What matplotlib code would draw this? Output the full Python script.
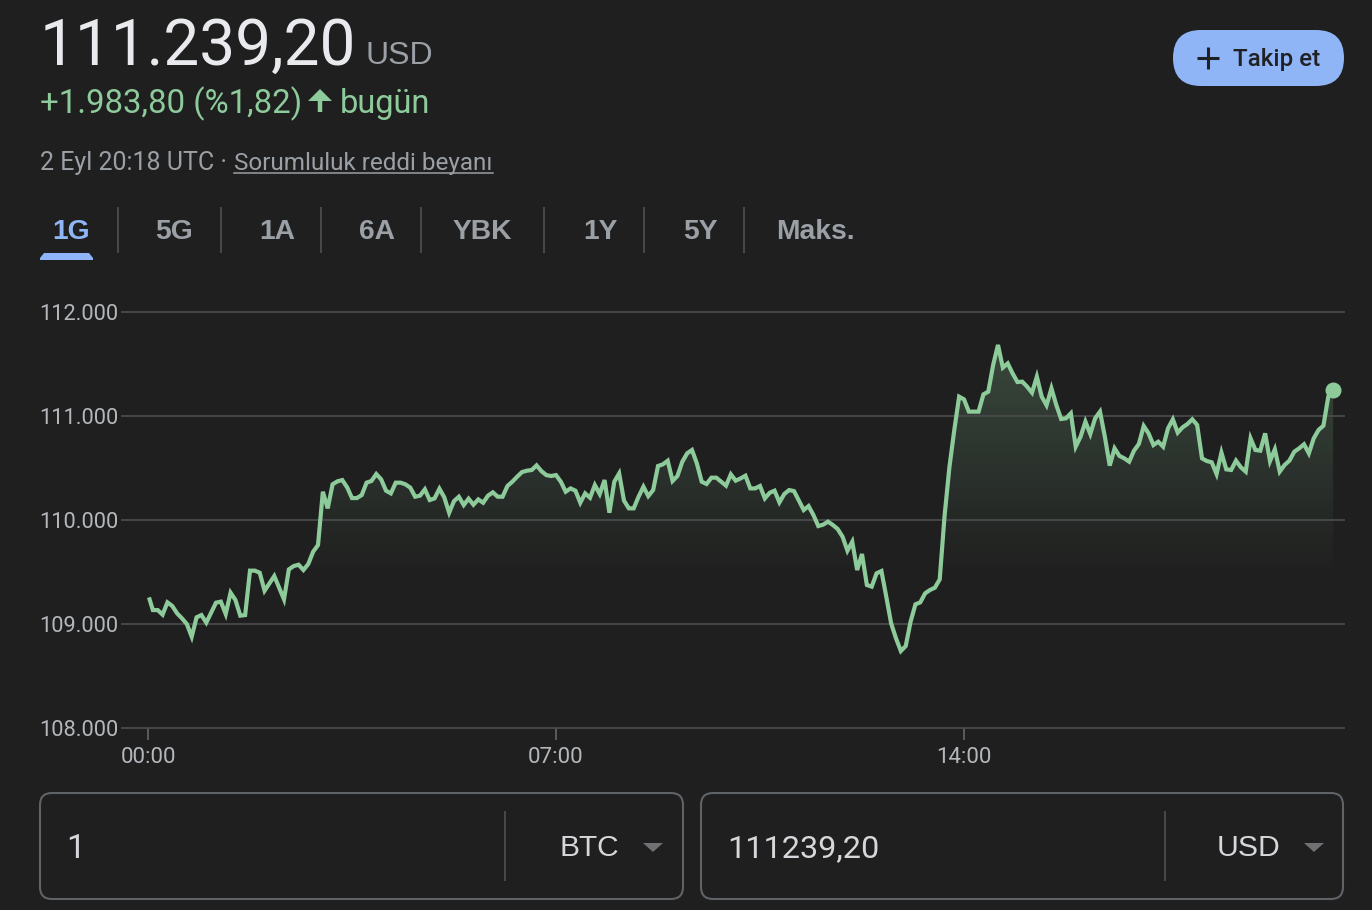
import numpy as np
import matplotlib
matplotlib.use("Agg")
import matplotlib.pyplot as plt
from matplotlib.patches import FancyBboxPatch, Polygon

# dados do grafico (minutos desde 00:00 e preco em USD)
minutos = [
    1, 5, 10, 15, 20, 25, 30, 35, 40, 45, 50, 55, 60, 65, 70, 75, 80, 85, 90, 95,
    100, 105, 110, 115, 120, 125, 130, 135, 140, 145, 150, 155, 160, 165, 170, 175, 180, 185, 190, 195,
    200, 205, 210, 215, 220, 225, 230, 235, 240, 245, 250, 255, 260, 265, 270, 275, 280, 285, 290, 295,
    300, 305, 310, 315, 320, 325, 330, 335, 340, 345, 350, 355, 360, 365, 370, 375, 380, 385, 390, 395,
    400, 405, 410, 415, 420, 425, 430, 435, 440, 445, 450, 455, 460, 465, 470, 475, 480, 485, 490, 495,
    500, 505, 510, 515, 520, 525, 530, 535, 540, 545, 550, 555, 560, 565, 570, 575, 580, 585, 590, 595,
    600, 605, 610, 615, 620, 625, 630, 635, 640, 645, 650, 655, 660, 665, 670, 675, 680, 685, 690, 695,
    700, 705, 710, 715, 720, 725, 730, 735, 740, 745, 750, 755, 760, 765, 770, 775, 780, 785, 790, 795,
    800, 805, 810, 815, 820, 825, 830, 835, 840, 845, 850, 855, 860, 865, 870, 875, 880, 885, 890, 895,
    900, 905, 910, 915, 920, 925, 930, 935, 940, 945, 950, 955, 960, 965, 970, 975, 980, 985, 990, 995,
    1000, 1005, 1010, 1015, 1020, 1025, 1030, 1035, 1040, 1045, 1050, 1055, 1060, 1065, 1070, 1075, 1080, 1085, 1090, 1095,
    1100, 1105, 1110, 1115, 1120, 1125, 1130, 1135, 1140, 1145, 1150, 1155, 1160, 1165, 1170, 1175, 1180, 1185, 1190, 1195,
    1200, 1205, 1210, 1215, 1220,
]
precos = [
    109256, 109134, 109134, 109090, 109208, 109173, 109102, 109054, 108999, 108878,
    109064, 109086, 109013, 109109, 109205, 109215, 109096, 109301, 109231, 109080,
    109086, 109513, 109513, 109493, 109320, 109391, 109461, 109349, 109237, 109525,
    109557, 109570, 109519, 109577, 109695, 109759, 110272, 110112, 110343, 110372,
    110384, 110314, 110211, 110211, 110240, 110359, 110375, 110442, 110391, 110282,
    110256, 110359, 110359, 110343, 110311, 110224, 110234, 110295, 110192, 110208,
    110301, 110218, 110070, 110182, 110224, 110144, 110205, 110147, 110198, 110166,
    110234, 110266, 110224, 110224, 110327, 110368, 110416, 110461, 110474, 110481,
    110525, 110470, 110432, 110423, 110432, 110368, 110272, 110304, 110282, 110166,
    110256, 110214, 110336, 110250, 110384, 110070, 110368, 110448, 110186, 110112,
    110112, 110224, 110320, 110230, 110288, 110519, 110535, 110570, 110375, 110423,
    110560, 110641, 110673, 110544, 110368, 110346, 110407, 110407, 110368, 110330,
    110439, 110378, 110400, 110426, 110304, 110304, 110327, 110208, 110262, 110282,
    110170, 110250, 110288, 110278, 110186, 110096, 110134, 110048, 109942, 109955,
    109984, 109952, 109913, 109839, 109705, 109791, 109519, 109673, 109375, 109359,
    109487, 109509, 109262, 109006, 108862, 108740, 108788, 109022, 109189, 109208,
    109295, 109327, 109349, 109429, 110040, 110510, 110865, 111186, 111160, 111042,
    111042, 111042, 111208, 111234, 111490, 111683, 111465, 111506, 111410, 111327,
    111330, 111282, 111224, 111378, 111186, 111103, 111266, 111106, 110971, 110978,
    111026, 110705, 110801, 110946, 110827, 110978, 111042, 110801, 110523, 110689,
    110616, 110593, 110561, 110667, 110731, 110904, 110833, 110721, 110753, 110705,
    110881, 110968, 110840, 110891, 110923, 110968, 110914, 110593, 110567, 110555,
    110442, 110648, 110487, 110481, 110571, 110507, 110465, 110785, 110673, 110667,
    110833, 110567, 110680, 110465, 110529, 110571, 110657, 110689, 110728, 110641,
    110785, 110866, 110907, 111186, 111250,
]
y_ticks = [108000, 109000, 110000, 111000, 112000]
y_labels = ["108.000", "109.000", "110.000", "111.000", "112.000"]
x_ticks = [0, 420, 840]
x_labels = ["00:00", "07:00", "14:00"]
abas = ["1G", "5G", "1A", "6A", "YBK", "1Y", "5Y", "Maks."]
abas_x = [71, 174, 277, 377, 482, 600, 700, 815]
divisores_x = [118, 221, 321, 421, 544, 644, 744]

FUNDO = "#1f1f1f"
VERDE = "#8ecb9b"
AZUL = "#8fb5f7"
CINZA = "#9aa0a6"
GRADE = "#494a4c"
BORDA = "#5f6368"
FONTE = ["Roboto", "DejaVu Sans"]
FONTE2 = ["Liberation Sans", "DejaVu Sans"]

plt.rcParams["font.family"] = FONTE

W, H = 1372, 910
fig = plt.figure(figsize=(W / 100, H / 100), dpi=100, facecolor=FUNDO)

# eixo em pixels para a parte de interface
ui = fig.add_axes([0, 0, 1, 1])
ui.set_xlim(0, W)
ui.set_ylim(H, 0)
ui.axis("off")

# cabecalho
ui.text(40, 65, "111.239,20", fontsize=46, color="#e8eaed", ha="left", va="baseline")
ui.text(366, 64, "USD", fontsize=23, color=CINZA, ha="left", va="baseline", family=FONTE2)
ui.text(40, 113, "+1.983,80 (%1,82)", fontsize=23.8, color=VERDE, ha="left", va="baseline")
ui.plot([320, 320], [97, 112], color=VERDE, lw=3.2, solid_capstyle="butt")
ui.add_patch(Polygon([(308, 101), (320, 89), (332, 101)], closed=True, facecolor=VERDE, edgecolor="none"))
ui.text(340, 113, "bugün", fontsize=23.5, color=VERDE, ha="left", va="baseline")
ui.text(40, 170, "2 Eyl 20:18 UTC ·", fontsize=18, color=CINZA, ha="left", va="baseline")
ui.text(234, 170, "Sorumluluk reddi beyanı", fontsize=17.5, color=CINZA, ha="left", va="baseline")
ui.plot([234, 493], [173, 173], color=CINZA, lw=1.1)

# botao
ui.add_patch(FancyBboxPatch((1173 + 28, 30 + 28), 171 - 56, 0, boxstyle="round,pad=28,rounding_size=28",
                            facecolor=AZUL, edgecolor="none"))
ui.plot([1197, 1219], [58, 58], color="#202124", lw=2.2, solid_capstyle="butt")
ui.plot([1208, 1208], [47, 69], color="#202124", lw=2.2, solid_capstyle="butt")
ui.text(1233, 59.5, "Takip et", fontsize=17.4, color="#202124", ha="left", va="center", fontweight="medium")

# abas de periodo
for i, aba in enumerate(abas):
    cor = AZUL if i == 0 else CINZA
    ui.text(abas_x[i], 232, aba, fontsize=20.3, color=cor, ha="center", va="center", fontweight="bold", family=FONTE2)
for x in divisores_x:
    ui.plot([x, x], [208, 252], color=GRADE, lw=1.4)
ui.add_patch(Polygon([(40, 260), (40, 258), (44, 253), (89, 253), (93, 258), (93, 260)], closed=True,
                     facecolor=AZUL, edgecolor="none"))

# caixas de conversao
for x0, x1, div in [(40, 683, 505), (701, 1343, 1165)]:
    ui.add_patch(FancyBboxPatch((x0 + 12, 793 + 12), x1 - x0 - 24, 106 - 24,
                                boxstyle="round,pad=12,rounding_size=12",
                                facecolor="none", edgecolor=BORDA, lw=1.5))
    ui.plot([div, div], [812, 880], color=GRADE, lw=1.4)
ui.text(66, 849, "1", fontsize=24, color="#d5d7da", ha="left", va="center")
ui.text(560, 848, "BTC", fontsize=21.5, color="#d5d7da", ha="left", va="center", family=FONTE2)
ui.add_patch(Polygon([(643, 843), (663, 843), (653, 852)], closed=True, facecolor="#6f7175", edgecolor="none"))
ui.text(727.5, 849, "111239,20", fontsize=23.3, color="#d5d7da", ha="left", va="center")
ui.text(1217, 848, "USD", fontsize=21.7, color="#d5d7da", ha="left", va="center", family=FONTE2)
ui.add_patch(Polygon([(1304, 843), (1324, 843), (1314, 852)], closed=True, facecolor="#6f7175", edgecolor="none"))

# grafico principal
ax_left, ax_right, ax_top, ax_bottom = 122, 1344, 312, 728
ax = fig.add_axes([ax_left / W, 1 - ax_bottom / H, (ax_right - ax_left) / W, (ax_bottom - ax_top) / H])
ax.patch.set_alpha(0)
px_por_minuto = 408 / 420
xmin, xmax = -(148 - ax_left) / px_por_minuto, (ax_right - 148) / px_por_minuto
ax.set_xlim(xmin, xmax)
ax.set_ylim(108000, 112000)

# area com gradiente embaixo da linha
x = np.array(minutos)
y = np.array(precos)
topo = y.max()
base = 109450
grad = np.zeros((256, 2, 4))
grad[..., :3] = matplotlib.colors.to_rgb(VERDE)
grad[..., 3] = np.linspace(0.24, 0, 256)[:, None]
im = ax.imshow(grad, extent=(x[0], x[-1], base, topo), origin="upper", aspect="auto", zorder=1)
contorno = Polygon(list(zip(x, y)) + [(x[-1], 108000), (x[0], 108000)], closed=True,
                   transform=ax.transData, facecolor="none", edgecolor="none")
ax.add_patch(contorno)
im.set_clip_path(contorno)
ax.set_xlim(xmin, xmax)
ax.set_ylim(108000, 112000)

ax.plot(x, y, color=VERDE, lw=3, zorder=3, solid_joinstyle="miter", solid_capstyle="butt")
ax.plot(x[-1], y[-1], "o", color=VERDE, ms=11.5, mec="none", zorder=4)

ax.set_yticks(y_ticks)
ax.set_yticklabels(y_labels)
ax.set_xticks(x_ticks)
ax.set_xticklabels(x_labels)
ax.tick_params(axis="y", length=0, pad=2.5, labelsize=15.7, labelcolor="#b4b7bb")
ax.tick_params(axis="x", length=8.5, width=1.1, color="#6a6c70", pad=5, labelsize=16, labelcolor="#b4b7bb")
ax.grid(axis="y", color=GRADE, lw=1.3, zorder=2)
ax.set_axisbelow(False)
for g in ax.get_ygridlines():
    g.set_clip_on(False)
    g.set_zorder(2)
for s in ax.spines.values():
    s.set_visible(False)

fig.savefig("out.png", dpi=100, facecolor=FUNDO)
